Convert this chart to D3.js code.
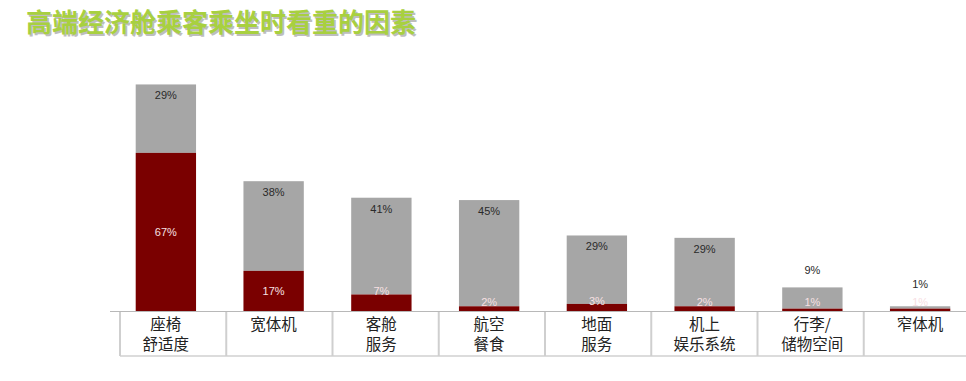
<!DOCTYPE html>
<html>
<head>
<meta charset="utf-8">
<script src="https://cdn.jsdelivr.net/npm/d3@7"></script>
<style>
  html, body { margin: 0; padding: 0; background: #fff; }
  svg { display: block; }
</style>
</head>
<body>
<svg id="chart" width="966" height="381"></svg>
<script>
const title = "高端经济舱乘客乘坐时看重的因素";
const categories = [
  ["座椅", "舒适度"],
  ["宽体机"],
  ["客舱", "服务"],
  ["航空", "餐食"],
  ["地面", "服务"],
  ["机上", "娱乐系统"],
  ["行李/", "储物空间"],
  ["窄体机"]
];
const redValues = [67, 17, 7, 2, 3, 2, 1, 1];
const grayValues = [29, 38, 41, 45, 29, 29, 9, 1];

const svg = d3.select("#chart");
const W = 966, H = 381;
const baseline = 311;

// Title
svg.append("text")
  .attr("x", 26).attr("y", 32)
  .attr("font-family", "'Noto Sans CJK SC', sans-serif")
  .attr("font-size", 26).attr("font-weight", 700)
  .attr("fill", "#8a8a8a").attr("opacity", 0.55)
  .attr("transform", "translate(1.5,1.5)")
  .text(title);
svg.append("text")
  .attr("x", 26).attr("y", 32)
  .attr("font-family", "'Noto Sans CJK SC', sans-serif")
  .attr("font-size", 26).attr("font-weight", 700)
  .attr("fill", "#a8d040")
  .text(title);

const idx = d3.range(categories.length);
const x = d3.scaleBand().domain(idx).range([112, 974]).paddingInner(0.44).paddingOuter(0.22);
const y = d3.scaleLinear().domain([0, 100]).range([baseline, baseline - 236]);

const g = svg.append("g");

// gray (top) segments
g.selectAll("rect.gray").data(idx).join("rect")
  .attr("class", "gray")
  .attr("x", i => x(i))
  .attr("width", x.bandwidth())
  .attr("y", i => y(redValues[i] + grayValues[i]))
  .attr("height", i => y(redValues[i]) - y(redValues[i] + grayValues[i]))
  .attr("fill", "#a6a6a6");

// red (bottom) segments
g.selectAll("rect.red").data(idx).join("rect")
  .attr("class", "red")
  .attr("x", i => x(i))
  .attr("width", x.bandwidth())
  .attr("y", i => y(redValues[i]))
  .attr("height", i => y(0) - y(redValues[i]))
  .attr("fill", "#7a0000");

function redLabelY(i) {
  const top = y(redValues[i]);
  const h = y(0) - top;
  if (h >= 20) return top + h / 2;
  return Math.min(top - 3, baseline - 9);
}
function grayLabelY(i) {
  const top = y(redValues[i] + grayValues[i]);
  const h = y(redValues[i]) - top;
  if (h >= 30) return top + 11;
  return Math.min(top - 17, redLabelY(i) - 18);
}

g.selectAll("text.rl").data(idx).join("text")
  .attr("class", "rl")
  .attr("x", i => x(i) + x.bandwidth() / 2)
  .attr("y", i => redLabelY(i))
  .attr("dy", "0.35em")
  .attr("text-anchor", "middle")
  .attr("font-family", "Arial, 'Liberation Sans', sans-serif")
  .attr("font-size", 11)
  .attr("fill", "#f7e0e3")
  .text(i => redValues[i] + "%");

g.selectAll("text.gl").data(idx).join("text")
  .attr("class", "gl")
  .attr("x", i => x(i) + x.bandwidth() / 2)
  .attr("y", i => grayLabelY(i))
  .attr("dy", "0.35em")
  .attr("text-anchor", "middle")
  .attr("font-family", "Arial, 'Liberation Sans', sans-serif")
  .attr("font-size", 11)
  .attr("fill", "#2a2a2a")
  .text(i => grayValues[i] + "%");

// Table below
const tx = d3.scaleBand().domain(idx).range([120, 970]);
const table = svg.append("g");
table.append("line")
  .attr("x1", 110).attr("x2", W).attr("y1", baseline + 0.5).attr("y2", baseline + 0.5)
  .attr("stroke", "#b8b8b8").attr("stroke-width", 1);
table.append("line")
  .attr("x1", 120).attr("x2", W).attr("y1", 356).attr("y2", 356)
  .attr("stroke", "#d0d0d0").attr("stroke-width", 1.5);
table.selectAll("line.div").data(idx).join("line")
  .attr("class", "div")
  .attr("x1", i => tx(i)).attr("x2", i => tx(i))
  .attr("y1", baseline + 1).attr("y2", 356)
  .attr("stroke", "#cfcfcf").attr("stroke-width", 2);

const labels = table.selectAll("text.cat").data(idx).join("text")
  .attr("class", "cat")
  .attr("text-anchor", "middle")
  .attr("font-family", "'Noto Sans CJK SC', sans-serif")
  .attr("font-size", 15.5)
  .attr("fill", "#222");
labels.selectAll("tspan").data(i => categories[i].map(t => ({ t, i }))).join("tspan")
  .attr("x", d => x(d.i) + x.bandwidth() / 2)
  .attr("y", (d, k) => 330 + k * 20)
  .text(d => d.t);
</script>
</body>
</html>
